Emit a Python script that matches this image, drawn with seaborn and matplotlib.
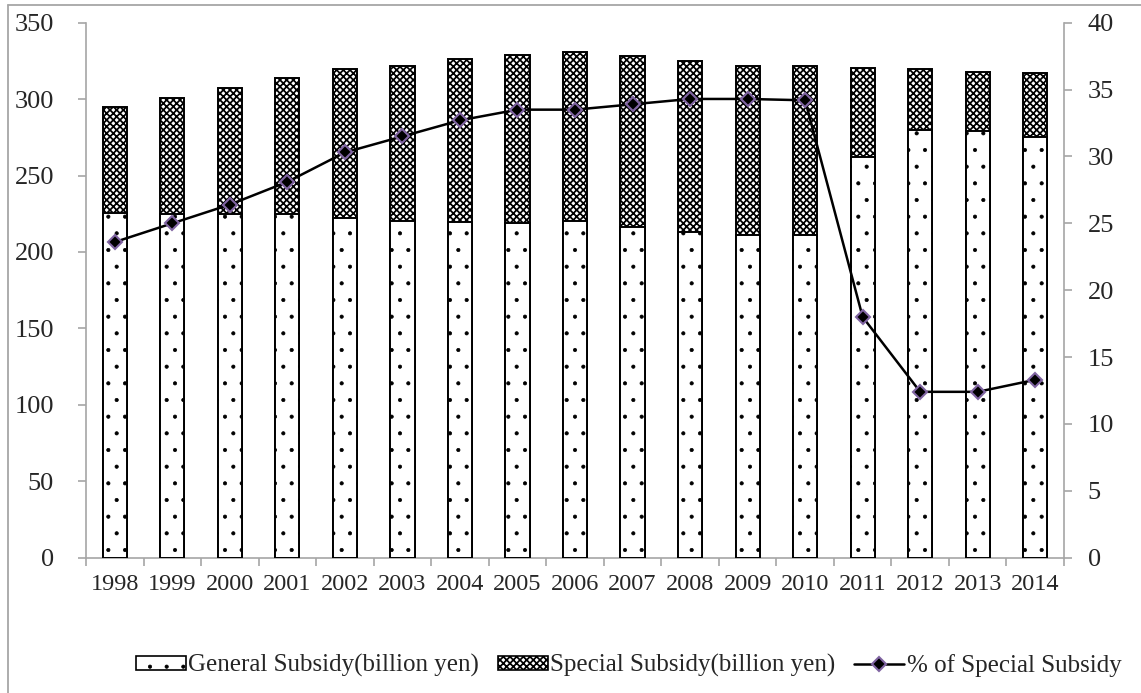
import matplotlib
matplotlib.use("Agg")
import matplotlib.pyplot as plt
import seaborn as sns
import pandas as pd
import numpy as np
from matplotlib.patches import Patch
from matplotlib.lines import Line2D
from matplotlib.ticker import MultipleLocator, FixedLocator

# Local allocation tax grants, 1998-2014
years = ["1998", "1999", "2000", "2001", "2002", "2003", "2004", "2005", "2006",
         "2007", "2008", "2009", "2010", "2011", "2012", "2013", "2014"]
general_subsidy = [225.2, 225.0, 225.0, 225.0, 222.0, 220.0, 219.5, 219.0, 220.0,
                   216.5, 213.3, 211.1, 211.3, 262.0, 279.8, 278.9, 275.0]
special_subsidy = [69.8, 75.5, 82.0, 89.0, 98.0, 101.5, 106.5, 110.0, 111.0,
                   111.5, 111.7, 110.4, 110.7, 58.5, 39.7, 39.1, 42.0]
special_share = [23.6, 25.0, 26.4, 28.1, 30.3, 31.5, 32.7, 33.5, 33.5,
                 33.9, 34.3, 34.3, 34.2, 18.0, 12.4, 12.4, 13.3]

df = pd.DataFrame({
    "year": years,
    "general": general_subsidy,
    "special": special_subsidy,
    "share": special_share,
})
df["total"] = df["general"] + df["special"]
df["pos"] = np.arange(len(df))

sns.set_theme(style="white")
plt.rcParams["font.family"] = ["Liberation Serif", "DejaVu Serif"]
plt.rcParams["hatch.linewidth"] = 1.0
plt.rcParams["hatch.color"] = "black"

axis_grey = "#A6A6A6"
checker = "xxxxx"
dots = "."
checker_lw = 1.25
dots_lw = 0.5


def set_hatch_width(patches, lw):
    for p in patches:
        if hasattr(p, "set_hatch_linewidth"):
            p.set_hatch_linewidth(lw)


fig = plt.figure(figsize=(11.41, 6.93), dpi=100)
ax = fig.add_axes([0.0754, 0.1953, 0.9325 - 0.0754, 0.9672 - 0.1953])

bar_w = 0.42
# Full stack height drawn first (special part shows above the general part)
sns.barplot(data=df, x="year", y="total", color="white", saturation=1,
            edgecolor="black", linewidth=1.4, hatch=checker, width=bar_w,
            errorbar=None, ax=ax, zorder=2)
set_hatch_width(ax.containers[0], checker_lw)
sns.barplot(data=df, x="year", y="general", color="white", saturation=1,
            edgecolor="black", linewidth=1.4, hatch=dots, width=bar_w,
            errorbar=None, ax=ax, zorder=3)
set_hatch_width(ax.containers[1], dots_lw)

ax.set_xlim(-0.5, len(years) - 0.5)
ax.set_ylim(0, 350)
ax.yaxis.set_major_locator(MultipleLocator(50))
ax.set_xlabel("")
ax.set_ylabel("")

# Category boundary ticks on the x axis, labels centred under bars
ax.xaxis.set_minor_locator(FixedLocator(np.arange(-0.5, len(years), 1.0)))
ax.tick_params(axis="x", which="major", length=0, pad=12, labelsize=17.5)
ax.tick_params(axis="x", which="minor", length=6, width=1.2, color=axis_grey,
               direction="out", bottom=True)
ax.tick_params(axis="y", which="major", length=6, width=1.2, color=axis_grey,
               direction="out", left=True, pad=17, labelsize=19)

for side in ["top", "right"]:
    ax.spines[side].set_visible(False)
for side in ["left", "bottom"]:
    ax.spines[side].set_color(axis_grey)
    ax.spines[side].set_linewidth(1.2)

# Share of special subsidy on the secondary axis
ax2 = ax.twinx()
sns.lineplot(data=df, x="pos", y="share", color="black", linewidth=1.8,
             marker="D", markersize=7, markerfacecolor="black",
             markeredgecolor="#8064A2", markeredgewidth=1.5, ax=ax2, zorder=4)
ax2.set_xlim(-0.5, len(years) - 0.5)
ax2.set_ylim(0, 40)
ax2.yaxis.set_major_locator(MultipleLocator(5))
ax2.set_ylabel("")
ax2.tick_params(axis="y", which="major", length=6, width=1.2, color=axis_grey,
                direction="out", right=True, pad=11, labelsize=19)
for side in ["top", "left", "bottom"]:
    ax2.spines[side].set_visible(False)
ax2.spines["right"].set_color(axis_grey)
ax2.spines["right"].set_linewidth(1.2)

# Chart area frame (top and left edges fall inside the image)
fig.add_artist(Line2D([8 / 1141, 1.0], [1 - 5 / 693, 1 - 5 / 693],
                      transform=fig.transFigure, color=axis_grey, lw=1.3))
fig.add_artist(Line2D([8 / 1141, 8 / 1141], [0.0, 1 - 5 / 693],
                      transform=fig.transFigure, color=axis_grey, lw=1.3))

general_handle = Patch(facecolor="white", edgecolor="black", hatch=dots,
                       linewidth=1.2)
special_handle = Patch(facecolor="white", edgecolor="black", hatch=checker,
                       linewidth=1.2)
share_handle = Line2D([], [], color="black", linewidth=1.8, marker="D",
                      markersize=7, markerfacecolor="black",
                      markeredgecolor="#8064A2", markeredgewidth=1.5)
labels = ["General Subsidy(billion yen)", "Special Subsidy(billion yen)",
          "% of Special Subsidy"]
leg = fig.legend([general_handle, special_handle, share_handle], labels,
                 loc="center", bbox_to_anchor=(0.551, 0.04),
                 ncol=3, frameon=False, fontsize=18, handlelength=2.0,
                 handleheight=0.5, handletextpad=0.1, columnspacing=0.75,
                 borderaxespad=0, borderpad=0)
leg_patches = leg.get_patches()
if len(leg_patches) >= 2:
    set_hatch_width([leg_patches[0]], dots_lw)
    set_hatch_width([leg_patches[1]], checker_lw)

fig.savefig("out.png", dpi=100)
